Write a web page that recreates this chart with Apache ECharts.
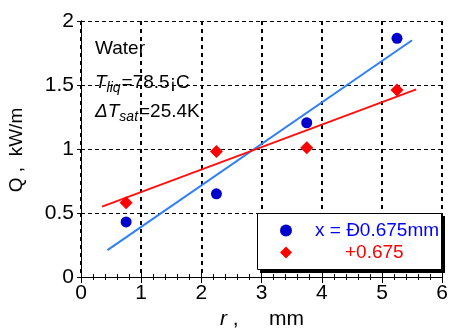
<!DOCTYPE html>
<html><head><meta charset="utf-8">
<script src="https://cdn.jsdelivr.net/npm/echarts@6/dist/echarts.min.js"></script>
<style>html,body{margin:0;padding:0;background:#fff}#c{width:451px;height:331px}</style>
</head><body><div id="c"></div>
<script>
var pointsX = [0.75, 2.25, 3.75, 5.25];
var blueQ = [0.43, 0.65, 1.205, 1.865];
var redQ = [0.58, 0.98, 1.01, 1.46];
var blueFitX = [0.44, 5.5];
var blueFitY = [0.21, 1.85];
var redFitX = [0.35, 5.57];
var redFitY = [0.55, 1.466];
var legendNames = ['x = Ð0.675mm', '+0.675'];
var xTicks = [0, 1, 2, 3, 4, 5, 6];
var yTicks = [0, 0.5, 1, 1.5, 2];

var FONT = 'Liberation Sans';
function pairs(xs, ys) { return xs.map(function (x, i) { return [x, ys[i]]; }); }

var chart = echarts.init(document.getElementById('c'), null, { renderer: 'canvas' });
var axisCommon = {
  type: 'value', axisLine: { show: true, lineStyle: { color: '#000', width: 1 } }
};
var subRich = {
  i: { fontFamily: FONT, fontSize: 19, fontStyle: 'italic', lineHeight: 26, verticalAlign: 'middle' },
  s: { fontFamily: FONT, fontSize: 14, fontStyle: 'italic', lineHeight: 13, verticalAlign: 'bottom', padding: [0, 1, 0, 0] },
  n: { fontFamily: FONT, fontSize: 19, lineHeight: 26, verticalAlign: 'middle' }
};
chart.setOption({
  animation: false,
  backgroundColor: '#fff',
  grid: { left: 81, right: 4, top: 21, bottom: 54 },
  xAxis: [
    Object.assign({}, axisCommon, {
      min: xTicks[0], max: xTicks[xTicks.length - 1], interval: 1, position: 'bottom',
      axisTick: { show: true, inside: true, length: 6, lineStyle: { color: '#000' } },
      minorTick: { show: true, splitNumber: 5, length: 3, lineStyle: { color: '#000' } },
      axisLabel: { color: '#000', fontFamily: FONT, fontSize: 21, margin: 6 },
      splitLine: { show: true, lineStyle: { color: '#000', type: [4, 4], width: 2 } }
    }),
    Object.assign({}, axisCommon, {
      min: xTicks[0], max: xTicks[xTicks.length - 1], interval: 1, position: 'top',
      axisTick: { show: true, inside: true, length: 6, lineStyle: { color: '#000' } },
      minorTick: { show: true, splitNumber: 5, length: 3, lineStyle: { color: '#000' } },
      axisLabel: { show: false }, splitLine: { show: false }
    })
  ],
  yAxis: [
    Object.assign({}, axisCommon, {
      min: yTicks[0], max: yTicks[yTicks.length - 1], interval: 0.5, position: 'left',
      axisTick: { show: true, inside: false, length: 3, lineStyle: { color: '#000' } },
      axisLabel: { color: '#000', fontFamily: FONT, fontSize: 21, margin: 7 },
      splitLine: { show: true, lineStyle: { color: '#000', type: [4, 3], width: 1 } }
    }),
    Object.assign({}, axisCommon, {
      min: yTicks[0], max: yTicks[yTicks.length - 1], interval: 0.5, position: 'right',
      axisTick: { show: true, inside: true, length: 4, lineStyle: { color: '#000' } },
      axisLabel: { show: false }, splitLine: { show: false }
    })
  ],
  legend: {
    orient: 'vertical', left: 257, top: 212, z: 20,
    padding: [9, 6, 9, 23], itemGap: 3, itemWidth: 12, itemHeight: 12, itemTextGap: 20,
    backgroundColor: 'transparent', borderWidth: 0,
    data: [
      { name: legendNames[0], textStyle: { color: '#0000ff', padding: [0, 0, 0, 18] } },
      { name: legendNames[1], textStyle: { color: '#ff0000', padding: [0, 0, 0, 48] } }
    ],
    textStyle: { fontFamily: FONT, fontSize: 19 }
  },
  graphic: [
    { type: 'rect', z: 10, shape: { x: 260, y: 216, width: 185, height: 57 }, style: { fill: '#000' } },
    { type: 'rect', z: 11, shape: { x: 257.5, y: 213.5, width: 184, height: 56 }, style: { fill: '#fff', stroke: '#000', lineWidth: 1 } },
    { type: 'text', left: 95, top: 39, style: { text: 'Water', font: '19px "Liberation Sans"', fill: '#000' } },
    { type: 'text', left: 95, top: 73, style: { text: '{i|T}{s|liq}{n|=78.5¡C}', fill: '#000', rich: subRich } },
    { type: 'text', left: 95, top: 102, style: { text: '{i|ΔT}{s|sat}{n|=25.4K}', fill: '#000', rich: subRich } },
    { type: 'text', x: 17, y: 150, rotation: Math.PI / 2, style: {
      text: 'Q ,  kW/m', font: '19px "Liberation Sans"', fill: '#000', align: 'center', verticalAlign: 'middle' } },
    { type: 'text', x: 220, y: 319, style: {
      text: '{i|r} ,', fill: '#000', align: 'left', verticalAlign: 'middle',
      font: '21px "Liberation Sans"',
      rich: { i: { fontFamily: FONT, fontSize: 21, fontStyle: 'italic' } } } },
    { type: 'text', x: 269, y: 319, style: {
      text: 'mm', fill: '#000', align: 'left', verticalAlign: 'middle', font: '21px "Liberation Sans"' } }
  ],
  series: [
    { type: 'line', data: pairs(blueFitX, blueFitY), showSymbol: false, symbol: 'none',
      lineStyle: { color: '#2f7ff5', width: 2 }, silent: true, z: 2 },
    { type: 'line', data: pairs(redFitX, redFitY), showSymbol: false, symbol: 'none',
      lineStyle: { color: '#ff1010', width: 2 }, silent: true, z: 2 },
    { name: legendNames[0], type: 'scatter', data: pairs(pointsX, blueQ), symbol: 'circle', symbolSize: 11,
      itemStyle: { color: '#0000cc', opacity: 1 }, z: 3 },
    { name: legendNames[1], type: 'scatter', data: pairs(pointsX, redQ), symbol: 'diamond', symbolSize: 13,
      itemStyle: { color: '#ff0000', opacity: 1 }, z: 3 }
  ]
});
</script></body></html>
